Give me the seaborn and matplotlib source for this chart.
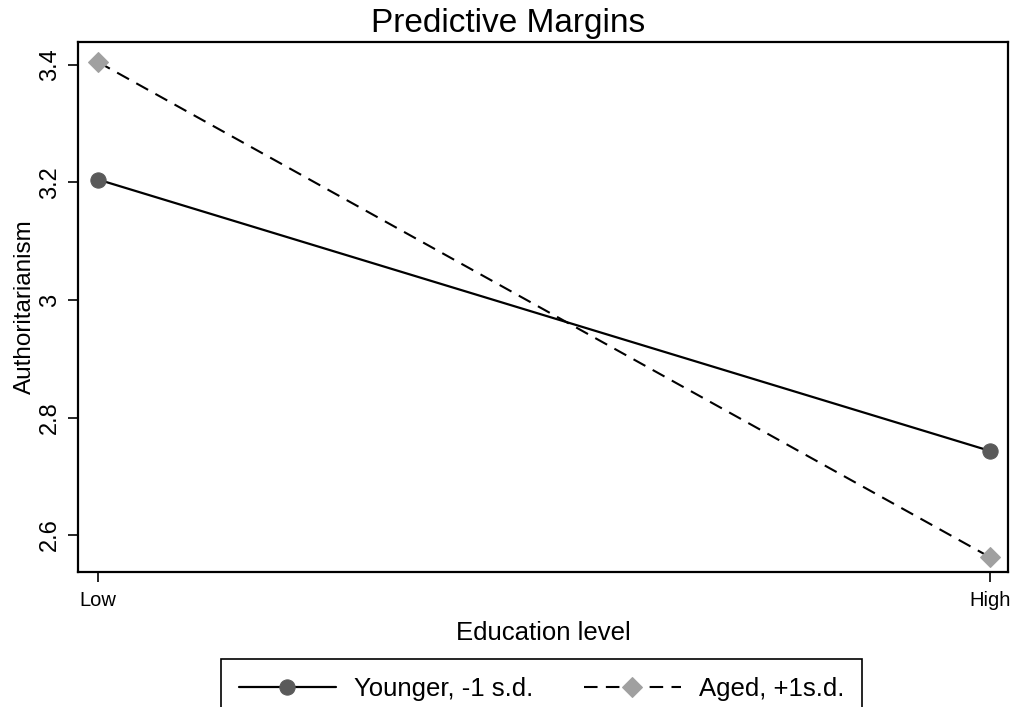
import pandas as pd
import seaborn as sns
import matplotlib.pyplot as plt

# values
edu_levels = ["Low", "High"]
edu_pos = [0, 1]
younger = [3.205, 2.743]
aged = [3.405, 2.562]
y_ticks = [2.6, 2.8, 3.0, 3.2, 3.4]
y_tick_labels = ["2.6", "2.8", "3", "3.2", "3.4"]


def set_config():
    sns.set_style("ticks")
    plt.rcParams["font.family"] = ["Liberation Sans", "DejaVu Sans"]
    plt.rcParams["axes.linewidth"] = 1.6
    plt.rcParams["text.color"] = "black"
    plt.rcParams["axes.labelcolor"] = "black"
    plt.rcParams["xtick.color"] = "black"
    plt.rcParams["ytick.color"] = "black"


def draw():
    df_young = pd.DataFrame({"edu": edu_pos, "value": younger})
    df_aged = pd.DataFrame({"edu": edu_pos, "value": aged})

    fig = plt.figure(figsize=(10.16, 7.07), dpi=100)
    ax = fig.add_axes([0.0768, 0.1909, 0.9154, 0.7496])

    sns.lineplot(data=df_young, x="edu", y="value", ax=ax, color="black",
                 linewidth=1.6, marker="o", markersize=11,
                 markerfacecolor="#5a5a5a", markeredgecolor="#5a5a5a",
                 label="Younger, -1 s.d.")
    sns.lineplot(data=df_aged, x="edu", y="value", ax=ax, color="black",
                 linewidth=1.5, marker="D", markersize=10.5,
                 markerfacecolor="#a0a0a0", markeredgecolor="#a0a0a0",
                 label="Aged, +1s.d.")
    # dashes on lineplot only apply with style=, so set it directly
    ax.lines[1].set_dashes((6.5, 4))

    ax.set_xlim(-0.0224, 1.02)
    ax.set_ylim(2.537, 3.439)
    ax.set_xticks(edu_pos)
    ax.set_xticklabels(edu_levels, fontsize=14.5)
    ax.set_yticks(y_ticks)
    ax.set_yticklabels(y_tick_labels, fontsize=17, rotation=90, va="center")
    ax.tick_params(axis="both", length=7.5, width=1.2, color="black")
    ax.tick_params(axis="y", pad=5)
    ax.tick_params(axis="x", pad=6)
    for s in ax.spines.values():
        s.set_visible(True)
        s.set_color("black")

    ax.set_xlabel("Education level", fontsize=18.5, labelpad=8)
    ax.set_ylabel("Authoritarianism", fontsize=17.5, labelpad=2)
    fig.text(0.5, 0.988, "Predictive Margins", fontsize=24, ha="center", va="top")

    # legend box runs off the bottom edge like the original
    ax.legend_.remove()
    h, l = ax.get_legend_handles_labels()
    leg = fig.legend(h, l, loc="upper center", bbox_to_anchor=(0.533, 0.068),
                     ncol=2, fontsize=18.5, frameon=True, fancybox=False,
                     edgecolor="black", framealpha=1, handlelength=3.75,
                     handletextpad=0.7, columnspacing=2.0, borderpad=0.7,
                     borderaxespad=0, numpoints=1)
    leg.get_frame().set_linewidth(1.2)

    fig.savefig("out.png", dpi=100)


def main():
    set_config()
    draw()


if __name__ == "__main__":
    main()
